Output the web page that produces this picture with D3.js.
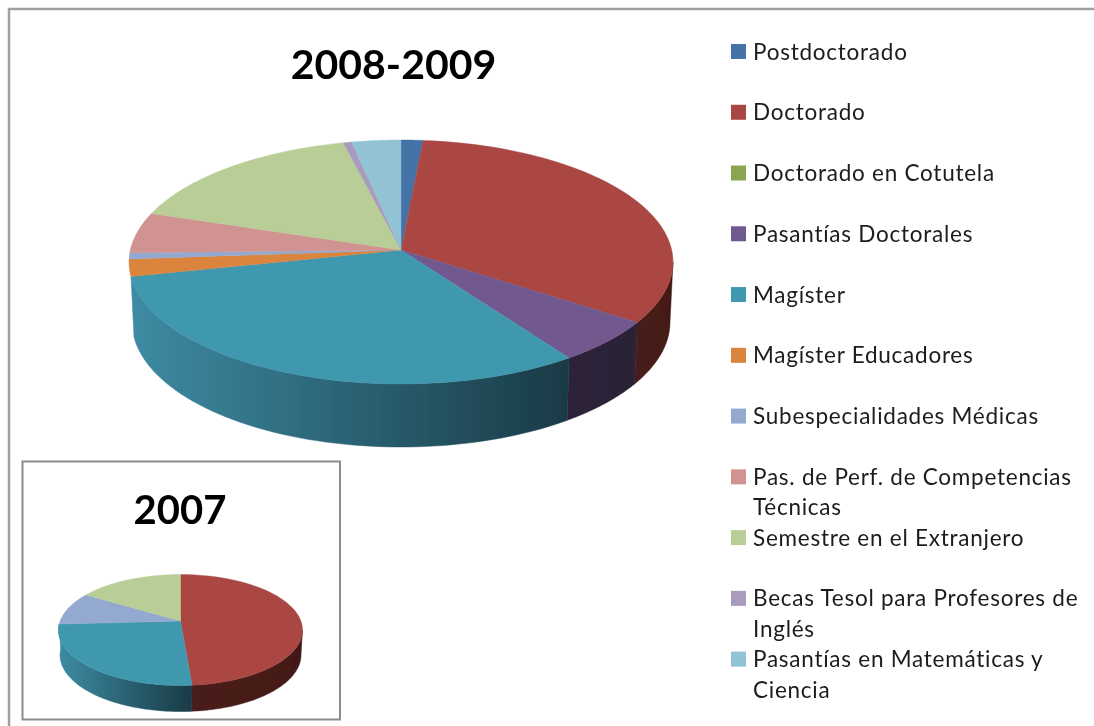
<!DOCTYPE html>
<html><head><meta charset="utf-8">
<script src="https://cdn.jsdelivr.net/npm/d3@7"></script>
<style>html,body{margin:0;padding:0;background:#fff}svg{display:block}text{font-family:Lato,"Open Sans",sans-serif}</style>
</head><body><svg id="c" width="1094" height="726"></svg>
<script>
const legendLabels = [
  ["Postdoctorado"],["Doctorado"],["Doctorado en Cotutela"],["Pasantías Doctorales"],["Magíster"],
  ["Magíster Educadores"],["Subespecialidades Médicas"],["Pas. de Perf. de Competencias","Técnicas"],
  ["Semestre en el Extranjero"],["Becas Tesol para Profesores de","Inglés"],["Pasantías en Matemáticas y","Ciencia"]];
const topColors = ["#4572a7","#aa4643","#89a54e","#71588f","#4198af","#db843d","#93a9cf","#d19392","#b9cd96","#a99bbd","#91c3d5"];
const sideLight = ["#2a4464","#4a1c1a","#526430","#2e233a","#3d8ba3","#8a5020","#5a6a80","#805a5a","#70805a","#665a70","#5a7a85"];
const sideDark  = ["#1d2f45","#431918","#36421f","#2a2035","#193a45","#5a3515","#3a4555","#553b3b","#4b553b","#443b4b","#3b5057"];
const values2008 = [1.3,31.95,0,6.15,33.7,2.3,0.8,5.3,15.1,0.5,2.9];
const values2007 = [0,48.5,0,0,28.2,0,9.2,0,14.1,0,0];

const svg = d3.select("#c");
const defs = svg.append("defs");
defs.append("filter").attr("id","soft").attr("filterUnits","userSpaceOnUse")
  .attr("x",0).attr("y",0).attr("width",1094).attr("height",726)
  .append("feGaussianBlur").attr("stdDeviation",0.55);
const root = svg.append("g").attr("filter","url(#soft)");

root.append("path").attr("d",d3.line()([[9,726],[9,9],[1094,9]]))
  .attr("fill","none").attr("stroke","#a0a0a0").attr("stroke-width",2.5);

function pie3d(id, values, g){
  const pie = d3.pie().sort(null).value(d=>d).startAngle(0).endAngle(2*Math.PI);
  const arcs = pie(values);
  const line = d3.line();
  const topPt = a => [g.cx+g.rx*Math.sin(a), g.cy-g.ry*Math.cos(a)];
  const botPt = a => [g.cx+g.brx*Math.sin(a), g.bcy-g.bry*Math.cos(a)];
  const samples = (a0,a1,f) => d3.range(0,61).map(i=>f(a0+(a1-a0)*i/60));
  const lay = root.append("g");
  const lo = g.sideFrom*Math.PI/180, hi = g.sideTo*Math.PI/180;
  arcs.forEach((d,i)=>{
    const a0=Math.max(d.startAngle,lo), a1=Math.min(d.endAngle,hi);
    if(a1<=a0) return;
    const top=samples(a0,a1,topPt), bot=samples(a0,a1,botPt);
    const x0=d3.min(top,p=>p[0]), x1=d3.max(top,p=>p[0]);
    const gid=`${id}-side-${i}`;
    const gr=defs.append("linearGradient").attr("id",gid).attr("gradientUnits","userSpaceOnUse")
      .attr("x1",x0).attr("x2",x1).attr("y1",0).attr("y2",0);
    gr.append("stop").attr("offset",0).attr("stop-color",sideLight[i]);
    gr.append("stop").attr("offset",1).attr("stop-color",sideDark[i]);
    lay.append("path").attr("d",line(top.concat(bot.reverse()))+"Z").attr("fill",`url(#${gid})`)
      .attr("stroke",`url(#${gid})`).attr("stroke-width",0.5);
  });
  arcs.forEach((d,i)=>{
    if(d.endAngle<=d.startAngle) return;
    const pts=[[g.cx,g.ay]].concat(samples(d.startAngle,d.endAngle,topPt));
    lay.append("path").attr("d",line(pts)+"Z").attr("fill",topColors[i])
      .attr("stroke",topColors[i]).attr("stroke-width",0.4);
  });
}

pie3d("big", values2008, {cx:401,cy:262,rx:272,ry:122,ay:250,brx:269,bcy:322,bry:125,sideFrom:90,sideTo:263});

root.append("text").attr("x",393.5).attr("y",79).attr("text-anchor","middle")
  .attr("font-size",41).attr("font-weight",700).attr("fill","#000").text("2008-2009");

root.append("rect").attr("x",22.5).attr("y",461.5).attr("width",317.5).attr("height",258)
  .attr("fill","#fff").attr("stroke","#8c8c8c").attr("stroke-width",2);
root.append("text").attr("x",180).attr("y",524).attr("text-anchor","middle")
  .attr("font-size",40).attr("font-weight",700).attr("fill","#000").text("2007");

pie3d("small", values2007, {cx:180.5,cy:630,rx:122,ry:55.5,ay:621,brx:120.5,bcy:655,bry:56.5,sideFrom:90,sideTo:276});

const rowY = d3.scaleLinear().domain([0,21]).range([52,690]);
const lg = root.append("g");
legendLabels.forEach((lines,i)=>{
  const y=rowY(2*i);
  lg.append("rect").attr("x",731).attr("y",y-8).attr("width",15).attr("height",15).attr("fill",topColors[i]);
  lines.forEach((t,j)=>{
    lg.append("text").attr("x",753).attr("y",rowY(2*i+j)+7.5).attr("font-size",22.5)
      .attr("letter-spacing",0.75).attr("fill","#1c1c1c").text(t);
  });
});
</script></body></html>
